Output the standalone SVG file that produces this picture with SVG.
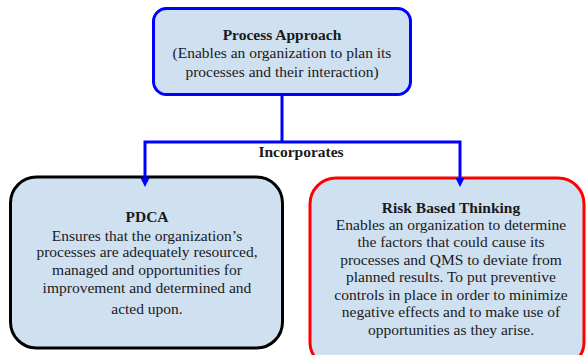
<svg xmlns="http://www.w3.org/2000/svg" width="586" height="355" viewBox="0 0 586 355">
  <style>
    .box { fill: #cfe0f1; }
    .t { font-family: "Liberation Serif", "Times New Roman", serif; font-size: 15.5px; fill: #1a1a1a; text-anchor: middle; }
    .b { font-weight: bold; }
    .conn { fill: none; stroke: #0000ff; stroke-width: 3; }
    .head { fill: #0000ff; }
  </style>

  <g id="process-approach">
    <rect class="box" x="153.5" y="8.5" width="257" height="86" rx="13" stroke="#0000ff" stroke-width="3"/>
    <text class="t b" x="282" y="40">Process Approach</text>
    <text class="t" x="282" y="58">(Enables an organization to plan its</text>
    <text class="t" x="282" y="77">processes and their interaction)</text>
  </g>

  <g id="pdca">
    <rect class="box" x="10.5" y="177" width="272" height="171" rx="26" stroke="#000000" stroke-width="3"/>
    <text class="t b" x="147" y="222">PDCA</text>
    <text class="t" x="147" y="241">Ensures that the organization’s</text>
    <text class="t" x="147" y="257">processes are adequately resourced,</text>
    <text class="t" x="147" y="275">managed and opportunities for</text>
    <text class="t" x="147" y="293">improvement and determined and</text>
    <text class="t" x="147" y="314">acted upon.</text>
  </g>

  <g id="risk-based-thinking">
    <rect class="box" x="310" y="178" width="274" height="190" rx="26" stroke="#ff0000" stroke-width="3"/>
    <text class="t b" x="451" y="213">Risk Based Thinking</text>
    <text class="t" x="451" y="230">Enables an organization to determine</text>
    <text class="t" x="451" y="247">the factors that could cause its</text>
    <text class="t" x="451" y="265">processes and QMS to deviate from</text>
    <text class="t" x="451" y="282">planned results. To put preventive</text>
    <text class="t" x="451" y="300">controls in place in order to minimize</text>
    <text class="t" x="451" y="317">negative effects and to make use of</text>
    <text class="t" x="451" y="335">opportunities as they arise.</text>
  </g>

  <g id="connectors">
    <path class="conn" d="M282,95 V142"/>
    <path class="conn" d="M145,180 V142 H460 V180"/>
    <polygon class="head" points="140.5,178 149.5,178 145,187"/>
    <polygon class="head" points="455.5,178 464.5,178 460,187"/>
    <text class="t b" x="301" y="157">Incorporates</text>
  </g>
</svg>
